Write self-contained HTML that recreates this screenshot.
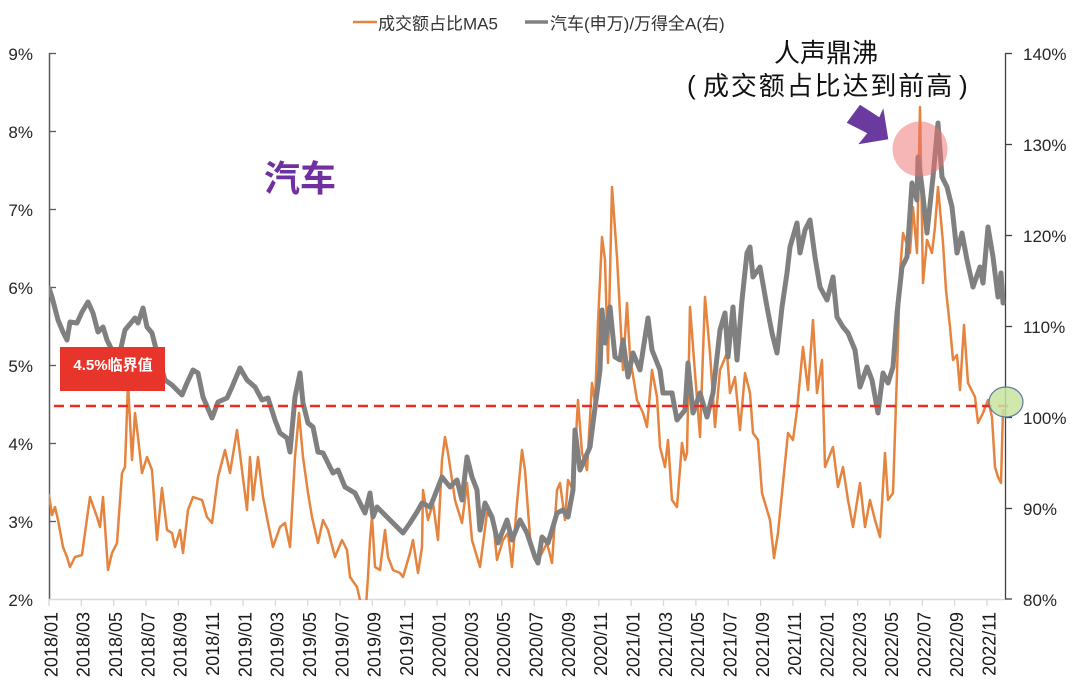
<!DOCTYPE html>
<html><head><meta charset="utf-8"><style>
html,body{margin:0;padding:0;background:#fff;}
svg{display:block;}
text{font-family:"Liberation Sans","Noto Sans CJK SC",sans-serif;}
</style></head><body>
<svg width="1080" height="689" viewBox="0 0 1080 689" xmlns="http://www.w3.org/2000/svg">
<defs><clipPath id="plot"><rect x="49" y="40" width="960" height="560"/></clipPath></defs>
<rect width="1080" height="689" fill="#fff"/>

<!-- legend -->
<line x1="353" y1="22" x2="377" y2="22" stroke="#e5843f" stroke-width="2.5"/>
<text x="378" y="29.5" font-size="17" fill="#333">成交额占比MA5</text>
<line x1="525" y1="22" x2="548" y2="22" stroke="#808080" stroke-width="3.5"/>
<text x="550" y="29.5" font-size="17" fill="#333">汽车(申万)/万得全A(右)</text>

<!-- axes -->
<line x1="49.5" y1="53" x2="49.5" y2="599" stroke="#595959" stroke-width="1.5"/>
<line x1="1005.5" y1="53" x2="1005.5" y2="599" stroke="#404040" stroke-width="1.3"/>
<line x1="49" y1="599.5" x2="1006" y2="599.5" stroke="#d9d9d9" stroke-width="1.5"/>
<g stroke="#595959" stroke-width="1.3">
<line x1="49" y1="53.5" x2="56" y2="53.5"/><line x1="49" y1="131.5" x2="56" y2="131.5"/><line x1="49" y1="209.5" x2="56" y2="209.5"/><line x1="49" y1="287.5" x2="56" y2="287.5"/><line x1="49" y1="365.5" x2="56" y2="365.5"/><line x1="49" y1="443.5" x2="56" y2="443.5"/><line x1="49" y1="521.5" x2="56" y2="521.5"/>
</g>
<g stroke="#404040" stroke-width="1.3">
<line x1="1005" y1="53.5" x2="1012" y2="53.5"/><line x1="1005" y1="144.5" x2="1012" y2="144.5"/><line x1="1005" y1="235.5" x2="1012" y2="235.5"/><line x1="1005" y1="326.5" x2="1012" y2="326.5"/><line x1="1005" y1="417.5" x2="1012" y2="417.5"/><line x1="1005" y1="508.5" x2="1012" y2="508.5"/><line x1="1005" y1="599" x2="1012" y2="599"/>
</g>
<g font-size="17" fill="#262626" text-anchor="end">
<text x="33" y="60">9%</text><text x="33" y="138">8%</text><text x="33" y="216">7%</text><text x="33" y="294">6%</text><text x="33" y="372">5%</text><text x="33" y="450">4%</text><text x="33" y="528">3%</text><text x="33" y="606">2%</text>
</g>
<g font-size="17" fill="#262626">
<text x="1023" y="60">140%</text><text x="1023" y="151">130%</text><text x="1023" y="242">120%</text><text x="1023" y="333">110%</text><text x="1023" y="424">100%</text><text x="1023" y="515">90%</text><text x="1023" y="606">80%</text>
</g>

<!-- x ticks -->
<g stroke="#d9d9d9" stroke-width="1.3">
<line x1="49" y1="599" x2="49" y2="606"/><line x1="81.3" y1="599" x2="81.3" y2="606"/><line x1="113.7" y1="599" x2="113.7" y2="606"/><line x1="146" y1="599" x2="146" y2="606"/><line x1="178.4" y1="599" x2="178.4" y2="606"/><line x1="210.7" y1="599" x2="210.7" y2="606"/><line x1="243.1" y1="599" x2="243.1" y2="606"/><line x1="275.4" y1="599" x2="275.4" y2="606"/><line x1="307.8" y1="599" x2="307.8" y2="606"/><line x1="340.1" y1="599" x2="340.1" y2="606"/><line x1="372.4" y1="599" x2="372.4" y2="606"/><line x1="404.8" y1="599" x2="404.8" y2="606"/><line x1="437.1" y1="599" x2="437.1" y2="606"/><line x1="469.5" y1="599" x2="469.5" y2="606"/><line x1="501.8" y1="599" x2="501.8" y2="606"/><line x1="534.2" y1="599" x2="534.2" y2="606"/><line x1="566.5" y1="599" x2="566.5" y2="606"/><line x1="598.8" y1="599" x2="598.8" y2="606"/><line x1="631.2" y1="599" x2="631.2" y2="606"/><line x1="663.5" y1="599" x2="663.5" y2="606"/><line x1="695.9" y1="599" x2="695.9" y2="606"/><line x1="728.2" y1="599" x2="728.2" y2="606"/><line x1="760.6" y1="599" x2="760.6" y2="606"/><line x1="792.9" y1="599" x2="792.9" y2="606"/><line x1="825.3" y1="599" x2="825.3" y2="606"/><line x1="857.6" y1="599" x2="857.6" y2="606"/><line x1="889.9" y1="599" x2="889.9" y2="606"/><line x1="922.3" y1="599" x2="922.3" y2="606"/><line x1="954.6" y1="599" x2="954.6" y2="606"/><line x1="987" y1="599" x2="987" y2="606"/>
</g>
<g font-size="18" fill="#1a1a1a" text-anchor="end">
<text transform="translate(57.3,612) rotate(-90)">2018/01</text>
<text transform="translate(89.6,612) rotate(-90)">2018/03</text>
<text transform="translate(122,612) rotate(-90)">2018/05</text>
<text transform="translate(154.3,612) rotate(-90)">2018/07</text>
<text transform="translate(186.7,612) rotate(-90)">2018/09</text>
<text transform="translate(219,612) rotate(-90)">2018/11</text>
<text transform="translate(251.4,612) rotate(-90)">2019/01</text>
<text transform="translate(283.7,612) rotate(-90)">2019/03</text>
<text transform="translate(316.1,612) rotate(-90)">2019/05</text>
<text transform="translate(348.4,612) rotate(-90)">2019/07</text>
<text transform="translate(380.7,612) rotate(-90)">2019/09</text>
<text transform="translate(413.1,612) rotate(-90)">2019/11</text>
<text transform="translate(445.4,612) rotate(-90)">2020/01</text>
<text transform="translate(477.8,612) rotate(-90)">2020/03</text>
<text transform="translate(510.1,612) rotate(-90)">2020/05</text>
<text transform="translate(542.5,612) rotate(-90)">2020/07</text>
<text transform="translate(574.8,612) rotate(-90)">2020/09</text>
<text transform="translate(607.1,612) rotate(-90)">2020/11</text>
<text transform="translate(639.5,612) rotate(-90)">2021/01</text>
<text transform="translate(671.8,612) rotate(-90)">2021/03</text>
<text transform="translate(704.2,612) rotate(-90)">2021/05</text>
<text transform="translate(736.5,612) rotate(-90)">2021/07</text>
<text transform="translate(768.9,612) rotate(-90)">2021/09</text>
<text transform="translate(801.2,612) rotate(-90)">2021/11</text>
<text transform="translate(833.6,612) rotate(-90)">2022/01</text>
<text transform="translate(865.9,612) rotate(-90)">2022/03</text>
<text transform="translate(898.2,612) rotate(-90)">2022/05</text>
<text transform="translate(930.6,612) rotate(-90)">2022/07</text>
<text transform="translate(962.9,612) rotate(-90)">2022/09</text>
<text transform="translate(995.3,612) rotate(-90)">2022/11</text>
</g>

<!-- series -->
<g clip-path="url(#plot)" fill="none" stroke-linejoin="round" stroke-linecap="round">
<polyline stroke="#e5843f" stroke-width="2.5" points="49,495 52,515 55,507 58,520 63,547 67,557 70,567 75,557 82,555 85,533 90,497 97,517 100,527 103,497 108,570 112,553 117,543 122,473 125,467 128,383 132,460 135,413 138,437 142,473 147,457 152,470 157,540 162,488 167,530 172,533 175,547 180,530 183,553 188,510 193,497 202,500 207,517 212,523 218,477 225,450 230,473 237,430 242,470 247,510 250,457 253,500 258,457 263,497 268,523 273,547 280,527 285,523 290,547 295,457 299,413 303,457 308,493 312,517 318,543 323,520 328,530 335,557 342,540 347,550 350,577 357,587 360,600 364,606 366,606 368,577 370,540 372,517 375,567 380,570 385,530 388,557 393,570 400,573 403,577 410,553 413,540 418,573 422,547 423,490 428,520 433,503 438,540 442,460 445,437 448,453 455,500 462,523 467,483 472,540 477,557 480,567 487,513 493,520 497,560 503,540 508,533 512,567 517,503 522,450 525,470 530,537 535,560 540,557 547,543 552,563 557,490 560,483 565,520 568,480 573,490 578,400 582,453 587,470 592,383 595,403 598,323 602,237 605,260 608,363 612,187 617,257 623,370 627,303 630,357 637,400 643,413 647,427 652,370 657,397 660,447 665,467 668,440 672,500 677,507 682,443 685,460 687,453 690,307 695,373 700,437 705,297 710,353 715,427 720,370 727,353 730,393 735,377 740,430 745,373 750,393 753,433 758,440 762,493 770,520 774,558 778,533 783,483 788,433 793,440 797,410 803,347 808,390 813,320 817,393 822,360 825,467 833,447 838,487 843,467 848,500 853,527 860,483 865,527 870,500 875,520 880,537 885,453 888,500 893,493 897,373 900,273 903,233 910,253 913,207 917,253 920,107 923,283 927,240 932,253 935,227 938,187 943,243 946,290 950,327 953,360 957,355 960,390 964,325 968,383 975,397 978,423 983,413 988,400 992,417 995,467 998,477 1001,483 1003,410"/>
<polyline stroke="#808080" stroke-width="5" points="49,288 52,297 58,320 63,332 67,340 70,322 77,323 82,312 88,302 93,313 98,332 103,327 107,340 112,350 120,352 125,330 135,318 138,323 143,308 147,327 152,333 157,353 165,380 172,385 182,395 187,383 193,370 198,373 203,397 212,418 218,402 227,398 232,387 240,368 247,380 255,387 262,400 268,398 275,420 280,433 287,438 290,452 295,397 300,373 303,403 308,423 313,427 318,452 323,453 328,463 333,473 338,470 345,487 355,493 365,513 370,493 373,517 377,507 387,517 397,527 403,533 410,523 417,512 422,503 430,507 433,500 442,477 450,487 457,480 462,500 467,457 472,477 477,490 480,530 485,503 492,517 498,543 507,520 512,540 520,520 527,533 535,557 538,563 542,537 548,543 552,530 557,513 563,510 568,517 573,490 575,430 580,470 590,447 593,423 600,370 602,310 605,343 610,307 615,357 620,360 623,340 628,377 633,353 640,370 648,318 652,350 660,370 663,393 672,393 677,420 685,410 688,363 693,413 700,393 707,417 713,393 720,330 725,313 728,357 733,307 737,360 742,300 747,253 750,247 753,277 760,267 767,307 772,333 777,353 782,307 787,273 790,247 797,223 800,253 805,230 810,220 815,257 820,287 827,300 833,277 837,317 843,327 848,333 855,350 860,387 867,367 872,380 878,413 883,373 888,383 893,367 897,313 902,267 907,257 912,183 917,200 918,157 922,187 927,233 933,177 938,123 942,177 947,187 952,207 957,253 962,233 967,260 973,287 980,267 983,283 988,227 993,257 998,297 1001,273 1003,303"/>
</g>

<!-- threshold -->
<line x1="54" y1="406" x2="1010" y2="406" stroke="#ee2a24" stroke-width="2.5" stroke-dasharray="10 6"/>
<rect x="60" y="347" width="105" height="44" fill="#e8352b"/>
<text x="113" y="370" font-size="15" font-weight="bold" fill="#fff" text-anchor="middle">4.5%临界值</text>

<!-- annotations -->
<text x="300" y="191" font-size="36" font-weight="bold" fill="#7030a0" text-anchor="middle">汽车</text>
<text x="826" y="62" font-size="26" fill="#111" text-anchor="middle">人声鼎沸</text>
<text x="687" y="94" font-size="26" fill="#111">(</text>
<text x="703" y="95" font-size="26" fill="#111" letter-spacing="1.9">成交额占比达到前高</text>
<text x="959" y="94" font-size="26" fill="#111">)</text>
<polygon points="846.7,122.7 860,104.7 879.3,117.3 883.3,108.3 888.3,139.3 858.3,144.3 867.3,133.3" fill="#6b3a9e"/>
<circle cx="920" cy="149" r="27.5" fill="rgba(240,110,110,0.5)"/>
<ellipse cx="1006" cy="402" rx="17" ry="15" fill="rgba(200,228,160,0.85)" stroke="#5a7aa0" stroke-width="1.2"/>
</svg>
</body></html>
